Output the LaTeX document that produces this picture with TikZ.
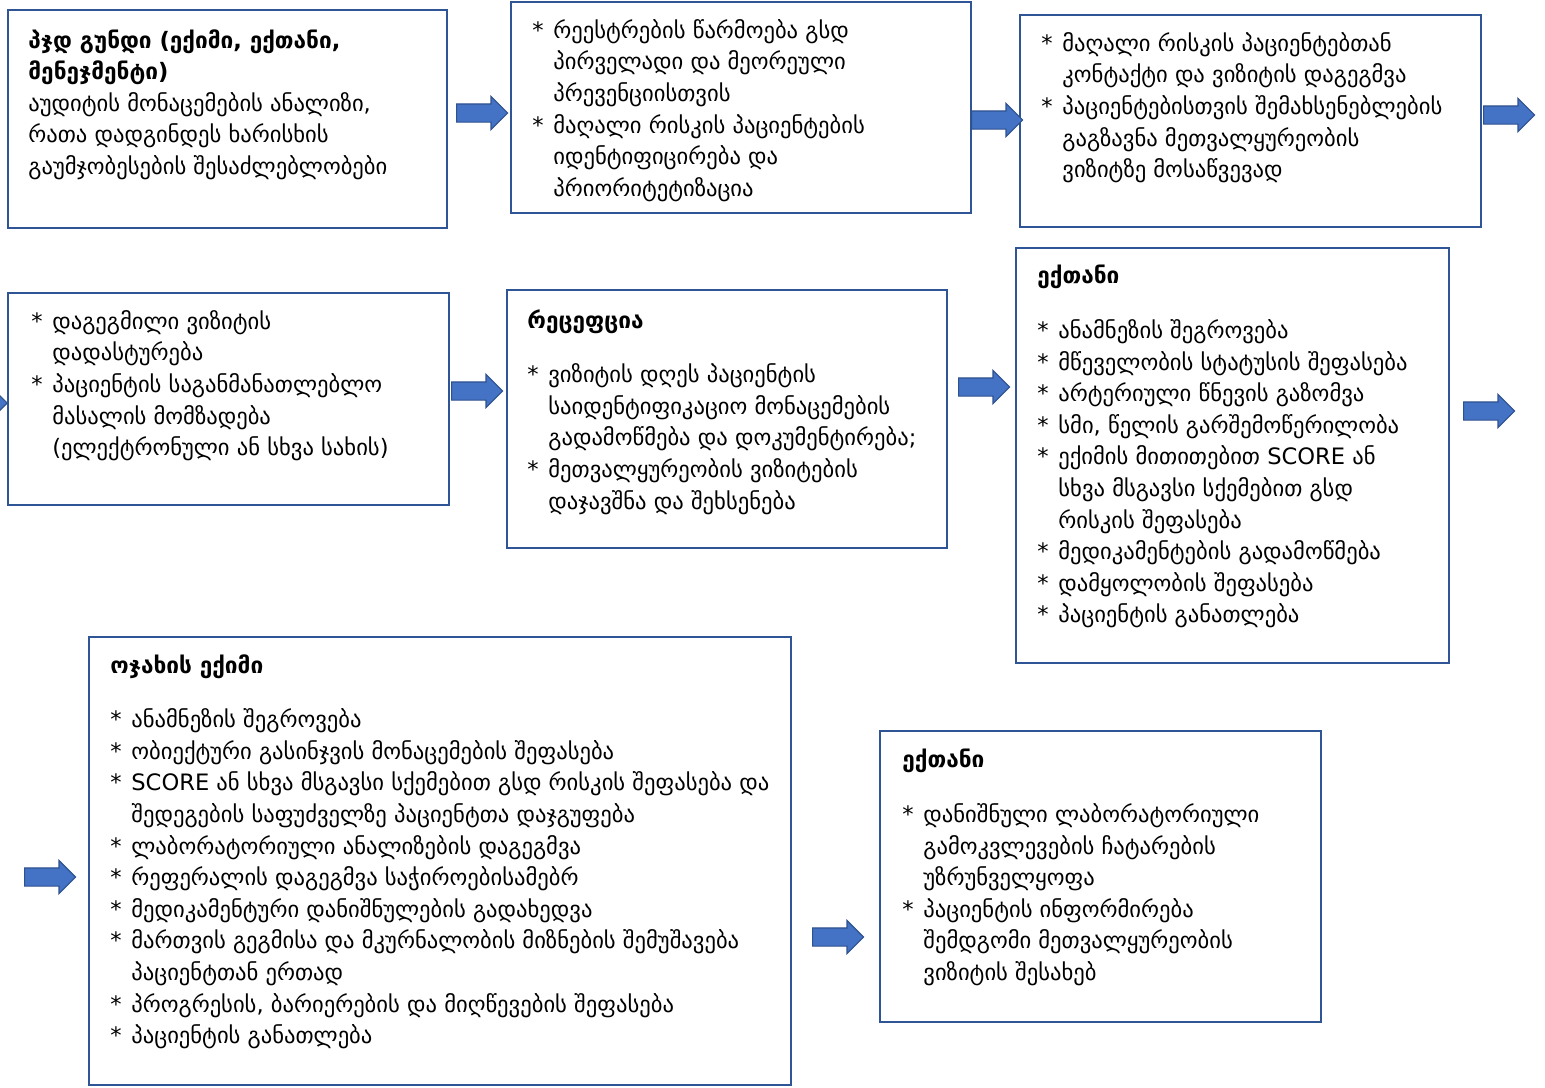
\documentclass[tikz,border=0pt]{standalone}
\usepackage{fontspec}
\setmainfont{DejaVu Sans}
\usetikzlibrary{shapes.arrows}

\definecolor{boxline}{RGB}{47,85,151}
\definecolor{arrfill}{RGB}{68,114,196}
\definecolor{arrline}{RGB}{47,82,143}

% bullet and continuation indent for the lists
\newcommand{\bitem}{\makebox[10.5pt][l]{*}}
\newcommand{\bcont}{\hspace*{10.5pt}}

\begin{document}
\begin{tikzpicture}[
  x=0.5pt, y=-0.5pt,
  box/.style={draw=boxline, line width=1.2pt, inner sep=0pt},
  txt/.style={anchor=north west, align=left, inner sep=0pt, font=\fontsize{11.3}{15.8}\selectfont},
  blk/.style={single arrow, draw=arrline, fill=arrfill, line width=0.6pt, inner sep=4.25pt,
    single arrow head extend=3.75pt, minimum height=25.5pt, anchor=tail}
]
\useasboundingbox (0,0) rectangle (1545,1087);
\clip (0,0) rectangle (1545,1087);

% boxes
\node[box, minimum width=219.5pt, minimum height=109pt] (b1) at (227.5,119) {};
\node[box, minimum width=230pt, minimum height=105.5pt] (b2) at (741,107.5) {};
\node[box, minimum width=230.5pt, minimum height=106pt] (b3) at (1250.5,121) {};
\node[box, minimum width=220.5pt, minimum height=106pt] (b4) at (228.5,399) {};
\node[box, minimum width=220pt, minimum height=129pt] (b5) at (727,419) {};
\node[box, minimum width=216.5pt, minimum height=207.5pt] (b6) at (1232.5,455.5) {};
\node[box, minimum width=351pt, minimum height=224pt] (b7) at (440,861) {};
\node[box, minimum width=220.5pt, minimum height=145.5pt] (b8) at (1100.5,876.5) {};

% texts
\node[txt] (t1) at (28,29) {\textbf{პჯდ გუნდი (ექიმი, ექთანი,}\\
  \textbf{მენეჯმენტი)}\\
  აუდიტის მონაცემების ანალიზი,\\
  რათა დადგინდეს ხარისხის\\
  გაუმჯობესების შესაძლებლობები};

\node[txt] (t2) at (532,19) {\bitem რეესტრების წარმოება გსდ\\
  \bcont პირველადი და მეორეული\\
  \bcont პრევენციისთვის\\
  \bitem მაღალი რისკის პაციენტების\\
  \bcont იდენტიფიცირება და\\
  \bcont პრიორიტეტიზაცია};

\node[txt] (t3) at (1041,32) {\bitem მაღალი რისკის პაციენტებთან\\
  \bcont კონტაქტი და ვიზიტის დაგეგმვა\\
  \bitem პაციენტებისთვის შემახსენებლების\\
  \bcont გაგზავნა მეთვალყურეობის\\
  \bcont ვიზიტზე მოსაწვევად};

\node[txt] (t4) at (31,310) {\bitem დაგეგმილი ვიზიტის\\
  \bcont დადასტურება\\
  \bitem პაციენტის საგანმანათლებლო\\
  \bcont მასალის მომზადება\\
  \bcont (ელექტრონული ან სხვა სახის)};

\node[txt] (t5) at (527,309) {\textbf{რეცეფცია}\\[11.5pt]
  \bitem ვიზიტის დღეს პაციენტის\\
  \bcont საიდენტიფიკაციო მონაცემების\\
  \bcont გადამოწმება და დოკუმენტირება;\\
  \bitem მეთვალყურეობის ვიზიტების\\
  \bcont დაჯავშნა და შეხსენება};

\node[txt] (t6) at (1037,265) {\textbf{ექთანი}\\[11.5pt]
  \bitem ანამნეზის შეგროვება\\
  \bitem მწეველობის სტატუსის შეფასება\\
  \bitem არტერიული წნევის გაზომვა\\
  \bitem სმი, წელის გარშემოწერილობა\\
  \bitem ექიმის მითითებით SCORE ან\\
  \bcont სხვა მსგავსი სქემებით გსდ\\
  \bcont რისკის შეფასება\\
  \bitem მედიკამენტების გადამოწმება\\
  \bitem დამყოლობის შეფასება\\
  \bitem პაციენტის განათლება};

\node[txt] (t7) at (110,654) {\textbf{ოჯახის ექიმი}\\[11.5pt]
  \bitem ანამნეზის შეგროვება\\
  \bitem ობიექტური გასინჯვის მონაცემების შეფასება\\
  \bitem SCORE ან სხვა მსგავსი სქემებით გსდ რისკის შეფასება და\\
  \bcont შედეგების საფუძველზე პაციენტთა დაჯგუფება\\
  \bitem ლაბორატორიული ანალიზების დაგეგმვა\\
  \bitem რეფერალის დაგეგმვა საჭიროებისამებრ\\
  \bitem მედიკამენტური დანიშნულების გადახედვა\\
  \bitem მართვის გეგმისა და მკურნალობის მიზნების შემუშავება\\
  \bcont პაციენტთან ერთად\\
  \bitem პროგრესის, ბარიერების და მიღწევების შეფასება\\
  \bitem პაციენტის განათლება};

\node[txt] (t8) at (902,749) {\textbf{ექთანი}\\[11.5pt]
  \bitem დანიშნული ლაბორატორიული\\
  \bcont გამოკვლევების ჩატარების\\
  \bcont უზრუნველყოფა\\
  \bitem პაციენტის ინფორმირება\\
  \bcont შემდგომი მეთვალყურეობის\\
  \bcont ვიზიტის შესახებ};

% block arrows
\node[blk, anchor=tip] (a0) at (8,403) {};
\node[blk] (a1) at (456,113) {};
\node[blk] (a2) at (971,120) {};
\node[blk] (a3) at (1483,115) {};
\node[blk] (a4) at (451,391) {};
\node[blk] (a5) at (958,387) {};
\node[blk] (a6) at (1463,411) {};
\node[blk] (a7) at (24,877) {};
\node[blk] (a8) at (812,937) {};
\end{tikzpicture}
\end{document}
